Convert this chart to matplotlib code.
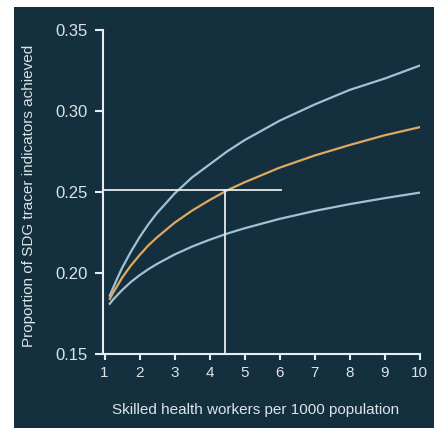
import matplotlib.pyplot as plt

# values
workers = [1.15, 1.25, 1.35, 1.5, 1.75, 2, 2.25, 2.5, 3, 3.5, 4, 4.5, 5, 6, 7, 8, 9, 10]
upper = [0.186, 0.191, 0.196, 0.203, 0.213, 0.222, 0.230, 0.237, 0.249, 0.259, 0.267, 0.275,
         0.282, 0.294, 0.304, 0.313, 0.320, 0.328]
middle = [0.184, 0.188, 0.1915, 0.197, 0.2045, 0.211, 0.217, 0.222, 0.231, 0.2385, 0.245, 0.251,
          0.256, 0.265, 0.2725, 0.279, 0.285, 0.290]
lower = [0.181, 0.1837, 0.186, 0.1894, 0.1944, 0.1986, 0.2023, 0.2056, 0.2114, 0.2163, 0.2205,
         0.2243, 0.2276, 0.2334, 0.2383, 0.2425, 0.2462, 0.2496]
target_x = 4.45
target_y = 0.251
hline_end = 6.05

xticks = [1, 2, 3, 4, 5, 6, 7, 8, 9, 10]
yticks = [0.15, 0.20, 0.25, 0.30, 0.35]

bg = '#14303f'
txt = '#dde4e8'
blue = '#9ec3d2'
orange = '#dfa95f'
axcol = '#e6ecef'

plt.rcParams['font.family'] = ['Liberation Sans', 'DejaVu Sans']

fig = plt.figure(figsize=(4.37, 4.28), dpi=100)
fig.patch.set_facecolor('white')

# dark panel behind the chart
panel = fig.add_axes([14 / 437, 0, 420 / 437, 421 / 428], zorder=0)
panel.set_facecolor(bg)
panel.set_xticks([])
panel.set_yticks([])
for s in panel.spines.values():
    s.set_visible(False)

ax = fig.add_axes([103 / 437, 1 - 354 / 428, (419.6 - 103) / 437, 324 / 428], zorder=1)
ax.set_facecolor('none')

ax.plot(workers, upper, color=blue, lw=1.6)
ax.plot(workers, lower, color=blue, lw=1.6)
ax.plot(workers, middle, color=orange, lw=1.6)

ax.plot([0.957, hline_end], [target_y, target_y], color=axcol, lw=1.3, clip_on=False)
ax.plot([target_x, target_x], [0.15, target_y], color=axcol, lw=1.3)

ax.set_xlim(0.957, 10)
ax.set_ylim(0.15, 0.35)
ax.set_xticks(xticks)
ax.set_yticks(yticks)
ax.set_xticklabels([str(v) for v in xticks])
ax.set_yticklabels(['%.2f' % v for v in yticks])

for s in ['top', 'right']:
    ax.spines[s].set_visible(False)
for s in ['left', 'bottom']:
    ax.spines[s].set_color(axcol)
    ax.spines[s].set_linewidth(1.5)

ax.tick_params(axis='y', length=6, width=1.5, color=axcol, labelcolor=txt,
               labelsize=12, pad=5)
ax.tick_params(axis='x', length=4.5, width=1.5, color=axcol, labelcolor=txt,
               labelsize=11, pad=4)

fig.text(256 / 437, 1 - 410 / 428, 'Skilled health workers per 1000 population',
         color=txt, size=11, ha='center', va='center')
fig.text(29 / 437, 1 - 196 / 428, 'Proportion of SDG tracer indicators achieved',
         color=txt, size=11, ha='center', va='center', rotation=90)

fig.savefig('out.png', dpi=100)
